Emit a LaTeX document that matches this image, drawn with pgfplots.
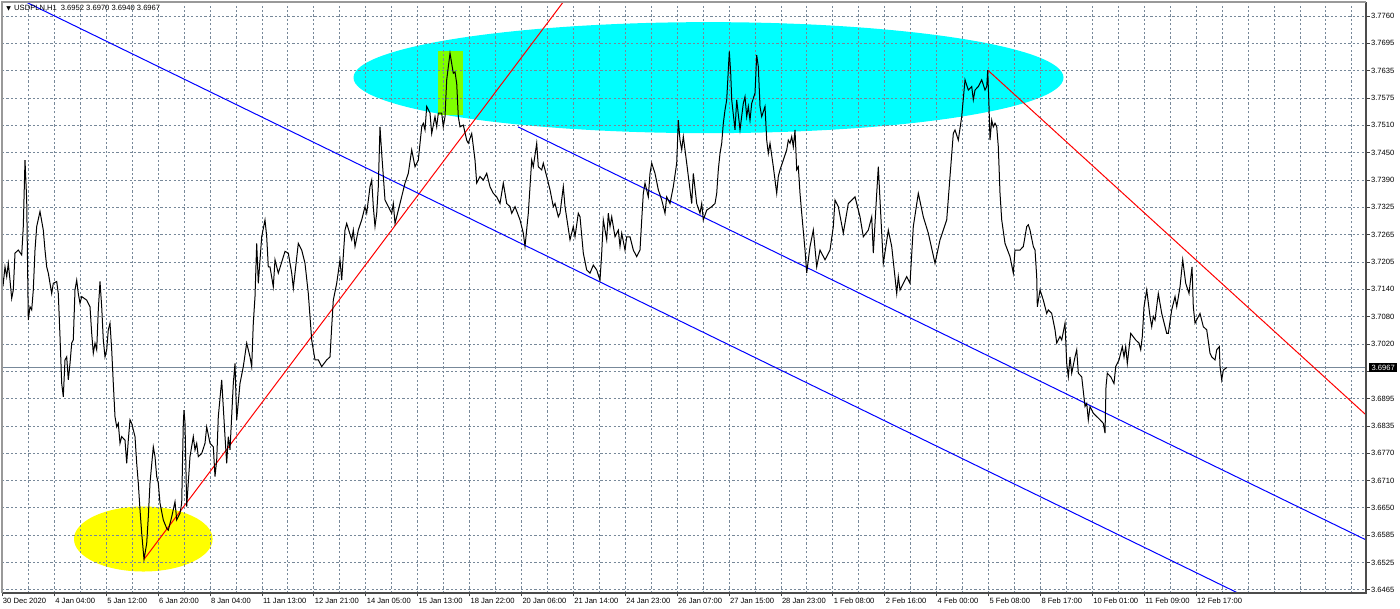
\documentclass[border=0pt]{standalone}
\usepackage{pgfplots}
\pgfplotsset{compat=1.18}
\usepackage{fontspec}
\setmainfont{Liberation Sans}
\newfontfamily\symfont{DejaVu Sans}
\definecolor{gridc}{RGB}{119,136,153}
\definecolor{aquafill}{RGB}{0,255,255}
\definecolor{yellowfill}{RGB}{255,255,0}
\definecolor{lawn}{RGB}{127,255,0}
\definecolor{trendred}{RGB}{255,0,0}
\definecolor{chanblue}{RGB}{0,0,255}
\newcommand{\tfont}{\fontsize{3.8}{4.2}\selectfont}
\begin{document}
\begin{tikzpicture}
\begin{axis}[
  at={(1pt,8pt)}, anchor=south west,
  scale only axis, width=682pt, height=295.5pt,
  xmin=2, xmax=1366, ymin=3.64582, ymax=3.77917,
  set layers, clip mode=individual,
  axis line style={draw=none},
  xtick={2,54.4,106.3,158.2,210.1,262.0,313.9,365.8,417.7,469.6,521.5,573.4,625.3,677.2,729.1,781.0,832.9,884.8,936.7,988.6,1040.5,1092.4,1144.3,1196.2},
  xticklabels={30 Dec 2020,4 Jan 04:00,5 Jan 12:00,6 Jan 20:00,8 Jan 04:00,11 Jan 13:00,12 Jan 21:00,14 Jan 05:00,15 Jan 13:00,18 Jan 22:00,20 Jan 06:00,21 Jan 14:00,24 Jan 23:00,26 Jan 07:00,27 Jan 15:00,28 Jan 23:00,1 Feb 08:00,2 Feb 16:00,4 Feb 00:00,5 Feb 08:00,8 Feb 17:00,10 Feb 01:00,11 Feb 09:00,12 Feb 17:00},
  minor xtick={28.45,80.35,132.25,184.15,236.05,287.95,339.85,391.75,443.65,495.55,547.45,599.35,651.25,703.15,755.05,806.95,858.85,910.75,962.65,1014.55,1066.45,1118.35,1170.25,1222.15,1248.1,1274.05,1300.0,1325.95,1351.9},
  ytick={3.6465,3.652667,3.658833,3.665,3.671167,3.677333,3.6835,3.689667,3.695833,3.702,3.708167,3.714333,3.7205,3.726667,3.732833,3.739,3.745167,3.751333,3.7575,3.763667,3.769833,3.776},
  yticklabels={3.6465,3.6525,3.6585,3.6650,3.6710,3.6770,3.6835,3.6895,{},3.7020,3.7080,3.7140,3.7205,3.7265,3.7325,3.7390,3.7450,3.7510,3.7575,3.7635,3.7695,3.7760},
  xtick pos=left, ytick pos=right, yticklabel pos=right,
  tick align=outside,
  major tick length=1.75pt, minor tick length=0pt,
  tick style={black!75, line width=0.5pt},
  grid=both,
  major grid style={gridc, dash pattern=on 1.1pt off 1.1pt, line width=0.5pt},
  minor grid style={gridc, dash pattern=on 1.1pt off 1.1pt, line width=0.5pt},
  xticklabel style={font=\tfont, anchor=north west, inner sep=0pt, xshift=0.3pt, yshift=-0.6pt},
  yticklabel style={font=\tfont, anchor=west, inner sep=0pt, xshift=0.6pt},
]
% page background and objects drawn under the grid
\begin{pgfonlayer}{axis background}
  \fill[white] (rel axis cs:-0.01,-0.04) rectangle (rel axis cs:1.03,1.01);
  \fill[aquafill] (axis cs:708.5,3.7621) ellipse [x radius=177.5pt, y radius=27.75pt];
  \fill[yellowfill] (axis cs:143.3,3.6580) ellipse [x radius=34.65pt, y radius=16.25pt];
  \fill[lawn] (axis cs:438.3,3.7681) rectangle (axis cs:462.7,3.7537);
\end{pgfonlayer}

% bid line
\addplot[gridc, line width=0.5pt] coordinates {(2,3.6967) (1366,3.6967)};

% trend lines
\addplot[trendred, line width=0.5pt] coordinates {(144,3.6534) (570,3.7812)};
\addplot[trendred, line width=0.5pt] coordinates {(987.7,3.7638) (1366,3.6860)};
% channel lines
\addplot[chanblue, line width=0.5pt] coordinates {(22,3.7796) (1238,3.6458)};
\addplot[chanblue, line width=0.5pt] coordinates {(518,3.7510) (1366,3.6578)};

% USDPLN H1 close
\addplot[black, line width=0.5pt] coordinates {
(1.7,3.7180)(3.3,3.7157)(5,3.7194)(6.7,3.7172)(8.3,3.7202)(10,3.7164)(11.7,3.7123)(13.3,3.7142)
(15,3.7225)(18.3,3.7232)(21.7,3.7221)(23.3,3.7285)(25,3.7435)(26.7,3.7345)(28.3,3.7074)(30,3.7104)
(31.7,3.7097)(33.3,3.7142)(35,3.7232)(36.7,3.7285)(40,3.7319)(43.3,3.7277)(45,3.7232)(46.7,3.7194)
(48.3,3.7180)(51.7,3.7134)(53.3,3.7157)(56.7,3.7161)(58.3,3.7134)(60,3.7037)(61.7,3.6931)(63.3,3.6901)
(65,3.6984)(66.7,3.6991)(68.3,3.6939)(70,3.6976)(71.7,3.7022)(73.3,3.7029)(75,3.7142)(76.7,3.7164)
(78.3,3.7134)(80,3.7112)(81.7,3.7127)(86.7,3.7119)(90,3.7104)(91.7,3.7044)(93.3,3.6999)(95,3.7022)
(96.7,3.7007)(98.3,3.7097)(100,3.7161)(101.7,3.7104)(103.3,3.7029)(105,3.6991)(106.7,3.7007)(108.3,3.7052)
(110,3.7067)(111.7,3.7007)(113.3,3.6931)(115,3.6856)(116.7,3.6833)(118.3,3.6841)(120,3.6796)(121.7,3.6811)
(125,3.6803)(126.7,3.6751)(128.3,3.6803)(130,3.6849)(131.7,3.6841)(135,3.6811)(136.7,3.6751)(138.3,3.6706)
(140,3.6646)(141.7,3.6593)(144,3.6534)(146.7,3.6570)(148.3,3.6630)(150,3.6706)(153.3,3.6788)(155,3.6766)
(156.7,3.6721)(158.3,3.6706)(160,3.6661)(163.3,3.6623)(166.7,3.6604)(168.3,3.6600)(171.7,3.6630)(175,3.6664)
(176.7,3.6623)(180,3.6638)(181.7,3.6661)(183.3,3.6841)(184,3.6871)(185,3.6841)(186.7,3.6653)(190,3.6766)
(193.3,3.6811)(195,3.6781)(196.7,3.6796)(198.3,3.6766)(201.7,3.6773)(205,3.6796)(206.7,3.6833)(210,3.6796)
(213.3,3.6788)(215,3.6721)(216.7,3.6758)(218.3,3.6856)(221.7,3.6939)(225,3.6811)(226.7,3.6751)(228.3,3.6811)
(230,3.6781)(233.3,3.6931)(235,3.6976)(236.7,3.6849)(240,3.6931)(243.3,3.6969)(246.7,3.7022)(250,3.6991)
(251.7,3.6969)(253.3,3.7067)(255,3.7127)(256.7,3.7247)(258.3,3.7157)(261.7,3.7262)(265,3.7300)(266.7,3.7262)
(268.3,3.7194)(270,3.7194)(273.3,3.7149)(275,3.7210)(278.3,3.7180)(285,3.7229)(288.3,3.7225)(291.7,3.7180)
(293.3,3.7146)(298.3,3.7247)(301.7,3.7232)(305,3.7202)(308.3,3.7134)(311.7,3.7029)(315,3.6984)(318.3,3.6984)
(321.7,3.6969)(326.7,3.6984)(330,3.6991)(331.7,3.7059)(333.3,3.7119)(336.7,3.7157)(340,3.7210)(341.7,3.7164)
(345,3.7277)(346.7,3.7292)(351.7,3.7255)(353.3,3.7277)(355,3.7240)(358.3,3.7277)(361.7,3.7300)(365,3.7330)
(366.7,3.7315)(370,3.7375)(371.7,3.7390)(373.3,3.7330)(375,3.7285)(376.7,3.7315)(378.3,3.7375)(380,3.7510)
(381.7,3.7450)(385,3.7345)(388.3,3.7330)(391.7,3.7315)(393.3,3.7337)(395,3.7292)(400,3.7337)(405,3.7383)
(408.3,3.7405)(411.7,3.7458)(415,3.7420)(418.3,3.7435)(421.7,3.7510)(423.3,3.7518)(425,3.7503)(426.7,3.7556)
(430,3.7541)(431.7,3.7495)(435,3.7533)(436.7,3.7510)(438.3,3.7541)(441.7,3.7541)(443.3,3.7510)(445,3.7533)
(446.7,3.7616)(450,3.7676)(453.3,3.7631)(455,3.7634)(456.7,3.7608)(458.3,3.7533)(460,3.7510)(463.3,3.7514)
(466.7,3.7480)(468.3,3.7473)(471.7,3.7495)(475,3.7435)(476.7,3.7383)(480,3.7398)(483.3,3.7390)(486.7,3.7405)
(490,3.7375)(493.3,3.7360)(496.7,3.7352)(500,3.7337)(503.3,3.7383)(506.7,3.7337)(510,3.7330)(511.7,3.7315)
(515,3.7330)(520,3.7300)(523.3,3.7270)(525,3.7240)(528.3,3.7315)(530,3.7375)(531.7,3.7435)(533.3,3.7420)
(536.7,3.7473)(538.3,3.7420)(541.7,3.7413)(543.3,3.7428)(546.7,3.7398)(550,3.7368)(553.3,3.7330)(555,3.7337)
(558.3,3.7307)(560,3.7315)(563.3,3.7375)(565,3.7330)(570,3.7255)(573.3,3.7285)(575,3.7262)(578.3,3.7315)
(580,3.7307)(583.3,3.7225)(586.7,3.7187)(590,3.7180)(593.3,3.7198)(596.7,3.7187)(600,3.7164)(601.7,3.7225)
(603.3,3.7300)(606.7,3.7255)(608.3,3.7315)(610,3.7285)(611.7,3.7307)(615,3.7262)(618.3,3.7277)(620,3.7240)
(621.7,3.7270)(625,3.7232)(626.7,3.7262)(630,3.7262)(633.3,3.7232)(636.7,3.7217)(640,3.7232)(641.7,3.7300)
(643.3,3.7360)(645,3.7383)(648.3,3.7352)(650,3.7405)(651.7,3.7428)(655,3.7405)(658.3,3.7368)(661.7,3.7345)
(665,3.7315)(666.7,3.7352)(670,3.7337)(673.3,3.7375)(676.7,3.7428)(678.3,3.7525)(680,3.7480)(681.7,3.7458)
(683.3,3.7488)(686.7,3.7428)(690,3.7368)(691.7,3.7337)(693.3,3.7405)(696.7,3.7337)(700,3.7315)(701.7,3.7337)
(703.3,3.7300)(706.7,3.7322)(711.7,3.7330)(715,3.7337)(716.7,3.7360)(718.3,3.7413)(720,3.7450)(721.7,3.7473)
(723.3,3.7518)(725,3.7548)(726.7,3.7571)(729.3,3.7680)(730.7,3.7631)(731.7,3.7571)(735,3.7503)(736.7,3.7571)
(740,3.7503)(743.3,3.7563)(745,3.7578)(746.7,3.7533)(748.3,3.7556)(750,3.7525)(751.7,3.7563)(755,3.7586)
(756.7,3.7672)(758.3,3.7646)(760,3.7556)(761.7,3.7533)(765,3.7556)(766.7,3.7480)(768.3,3.7450)(770,3.7473)
(773.3,3.7420)(776.7,3.7360)(778.3,3.7398)(780,3.7413)(783.3,3.7435)(786.7,3.7458)(788.3,3.7480)(790,3.7473)
(791.7,3.7488)(793.3,3.7465)(795,3.7503)(796.7,3.7413)(798.3,3.7420)(800,3.7360)(801.7,3.7315)(805,3.7232)
(806.7,3.7180)(810,3.7240)(813.3,3.7277)(816.7,3.7194)(820,3.7232)(825,3.7210)(830,3.7232)(833.3,3.7285)
(835,3.7345)(838.3,3.7330)(843.3,3.7270)(848.3,3.7337)(855,3.7352)(860,3.7307)(863.3,3.7262)(868.3,3.7277)
(871.7,3.7307)(873.3,3.7225)(876.7,3.7360)(878.3,3.7420)(881.7,3.7270)(883.3,3.7202)(888.3,3.7277)(891.7,3.7240)
(896.7,3.7134)(898.3,3.7172)(900,3.7142)(906.7,3.7172)(910,3.7157)(913.3,3.7285)(918.3,3.7360)(923.3,3.7307)
(928.3,3.7270)(935,3.7202)(940,3.7255)(946.7,3.7300)(950,3.7398)(953.3,3.7495)(955,3.7503)(958.3,3.7480)
(961.7,3.7533)(965,3.7616)(968.3,3.7593)(971.7,3.7601)(973.3,3.7571)(975,3.7593)(978.3,3.7601)(981.7,3.7616)
(985,3.7593)(986.7,3.7601)(987.7,3.7638)(989,3.7556)(990,3.7480)(991.7,3.7525)(993.3,3.7510)(995,3.7518)
(996.7,3.7510)(998.3,3.7465)(1000,3.7360)(1001.7,3.7300)(1005,3.7247)(1010,3.7217)(1013.3,3.7180)(1015,3.7232)
(1020,3.7232)(1023.3,3.7240)(1026.7,3.7285)(1028.3,3.7289)(1030,3.7277)(1033.3,3.7240)(1035,3.7232)(1036.7,3.7172)
(1037.3,3.7104)(1040,3.7142)(1043.3,3.7119)(1046.7,3.7089)(1048.3,3.7097)(1051.7,3.7089)(1055,3.7052)(1056.7,3.7022)
(1060,3.7037)(1061.7,3.7029)(1065,3.7067)(1066.7,3.6976)(1068.3,3.6946)(1070,3.6991)(1071.7,3.6954)(1075,3.6991)
(1076.7,3.7007)(1078.3,3.6954)(1081.7,3.6946)(1085,3.6879)(1086.7,3.6886)(1088.3,3.6849)(1090,3.6879)(1093.3,3.6864)
(1100,3.6849)(1103.3,3.6841)(1105,3.6819)(1106,3.6924)(1107.3,3.6954)(1110.7,3.6946)(1114,3.6931)(1115.7,3.6969)
(1119,3.6984)(1122.3,3.7014)(1124,3.6991)(1125.7,3.7014)(1127.3,3.6976)(1130.7,3.7044)(1135.7,3.7029)(1139,3.7022)
(1140.7,3.7007)(1142.3,3.7037)(1144,3.7104)(1146.7,3.7142)(1150,3.7082)(1151.7,3.7059)(1153.3,3.7082)(1155,3.7074)
(1158.3,3.7134)(1161.7,3.7089)(1166.7,3.7044)(1168.3,3.7044)(1171.7,3.7097)(1175,3.7127)(1176.7,3.7104)(1180,3.7149)
(1182.7,3.7210)(1185.7,3.7157)(1189,3.7134)(1192,3.7194)(1193.3,3.7104)(1195,3.7067)(1200,3.7089)(1203.3,3.7059)
(1206.7,3.7052)(1210,3.6999)(1211.7,3.6991)(1215,3.6984)(1216.7,3.7007)(1219.3,3.7014)(1220,3.6969)(1221.7,3.6939)
(1223.3,3.6961)(1226.7,3.6967)
};

% chart frame
\draw[black!70, line width=0.6pt] (rel axis cs:0,0) -- (rel axis cs:1,0) -- (rel axis cs:1,1);
\draw[gray!80, line width=0.9pt] (rel axis cs:0,0) -- (rel axis cs:0,1) -- (rel axis cs:1,1);

% symbol caption and last price tag
\node[anchor=west, inner sep=0pt, font=\tfont, xshift=2pt, yshift=-3pt] at (rel axis cs:0,1)
  {{\symfont\fontsize{3}{3}\selectfont ▼}\hspace{1.6pt}USDPLN,H1\hspace{2pt}3.6952 3.6970 3.6940 3.6967};
\node[anchor=west, fill=black, text=white, inner xsep=1.2pt, inner ysep=0.7pt, font=\tfont, xshift=1.4pt]
  at (axis cs:1366,3.6967) {3.6967};
\end{axis}
\pgfresetboundingbox
\useasboundingbox (0,0) rectangle (700pt,304.5pt);
\end{tikzpicture}
\end{document}
